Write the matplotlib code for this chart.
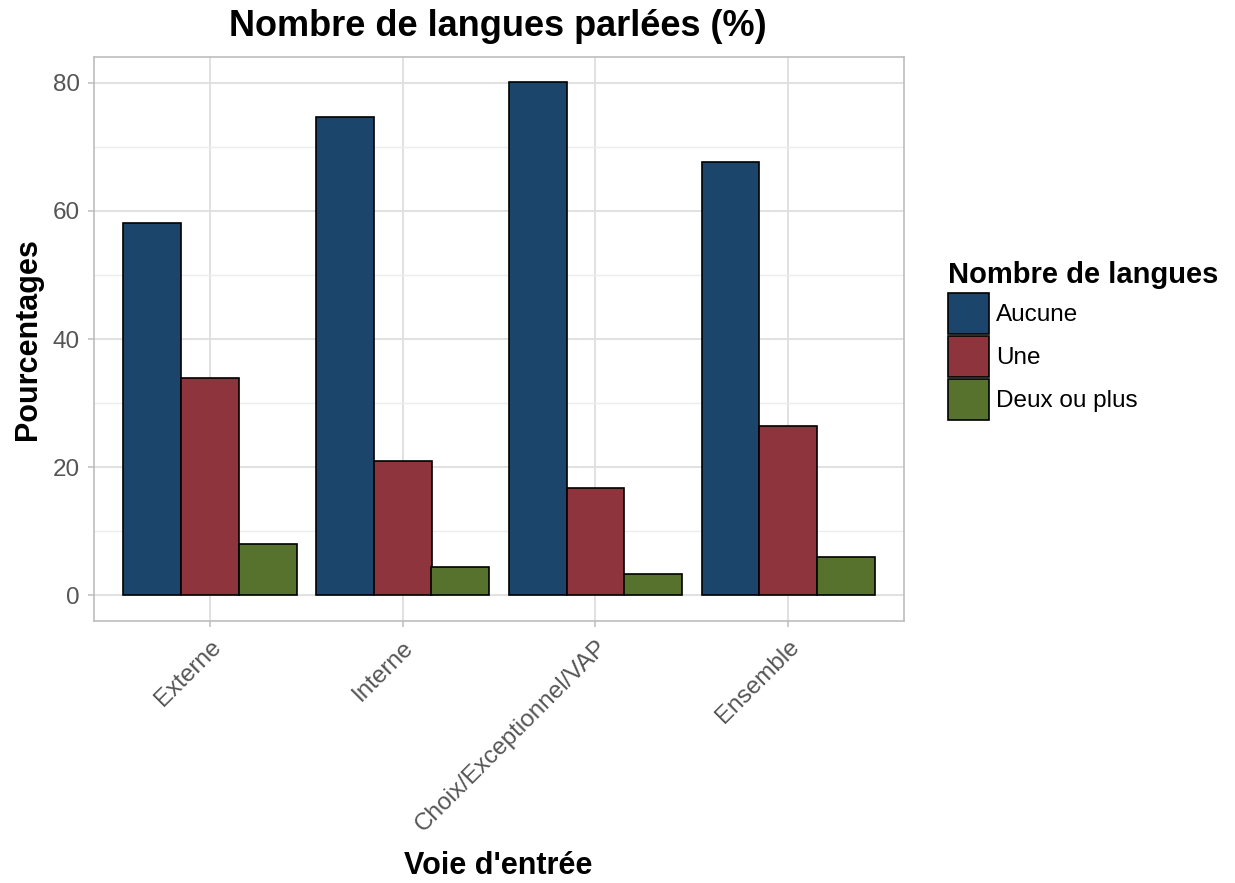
import matplotlib
matplotlib.use("Agg")
import matplotlib.pyplot as plt
from matplotlib.patches import Patch
import numpy as np

plt.rcParams['font.family'] = ['Liberation Sans', 'DejaVu Sans']

categories = ["Externe", "Interne", "Choix/Exceptionnel/VAP", "Ensemble"]
groups = ["Aucune", "Une", "Deux ou plus"]
aucune = [58.1, 74.6, 80.1, 67.6]
une = [33.9, 20.9, 16.8, 26.4]
deux_ou_plus = [8.0, 4.5, 3.4, 6.0]
colors = ["#1b456b", "#8e343c", "#56722d"]

fig = plt.figure(figsize=(12.35, 8.83), dpi=100)
ax = fig.add_axes([94 / 1235, 1 - 621 / 883, 810 / 1235, 564 / 883])

x = np.arange(1, len(categories) + 1)
width = 0.3
for i, (vals, col) in enumerate(zip([aucune, une, deux_ou_plus], colors)):
    ax.bar(x + (i - 1) * width, vals, width, color=col, edgecolor="black",
           linewidth=1.2, zorder=3)

ax.set_xlim(0.4, 4.6)
ax.set_ylim(-4.0, 84.0)
ax.set_yticks([0, 20, 40, 60, 80])
ax.set_yticks([10, 30, 50, 70], minor=True)
ax.set_xticks(x)
ax.set_xticklabels(categories, rotation=45, ha="right", va="top",
                   rotation_mode="anchor")
ax.grid(True, which="major", color="#dedede", linewidth=1.3, zorder=0)
ax.grid(True, which="minor", axis="y", color="#ececec", linewidth=1.0, zorder=0)
for s in ax.spines.values():
    s.set_color("#bdbdbd")
    s.set_linewidth(1.2)
ax.tick_params(axis="both", which="major", colors="#bdbdbd", length=4,
               width=1.1, labelcolor="#555555", labelsize=17.5)
ax.tick_params(axis="x", pad=7)
ax.tick_params(axis="y", pad=6)
ax.tick_params(axis="y", which="minor", length=0)

fig.text(498 / 1235, 1 - 27 / 883, "Nombre de langues parlées (%)",
         ha="center", va="center", fontsize=26, fontweight="bold")
fig.text(28 / 1235, 1 - 339 / 883, "Pourcentages", rotation=90,
         ha="center", va="center", fontsize=22, fontweight="bold")
fig.text(498 / 1235, 1 - 866 / 883, "Voie d'entrée", ha="center",
         va="center", fontsize=22, fontweight="bold")

handles = [Patch(facecolor=c, edgecolor="black", linewidth=1.2) for c in colors]
leg = fig.legend(handles, groups, loc="upper left",
                 bbox_to_anchor=(944 / 1235, 1 - 257 / 883),
                 title="Nombre de langues", frameon=False, fontsize=17.5,
                 handlelength=1.7, handleheight=2.22, labelspacing=0.08,
                 handletextpad=0.3, borderaxespad=0, borderpad=0.15)
leg.get_title().set_fontsize(21)
leg.get_title().set_fontweight("bold")
leg._legend_box.align = "left"
leg._legend_box.sep = 3

fig.savefig("out.png", dpi=100)
